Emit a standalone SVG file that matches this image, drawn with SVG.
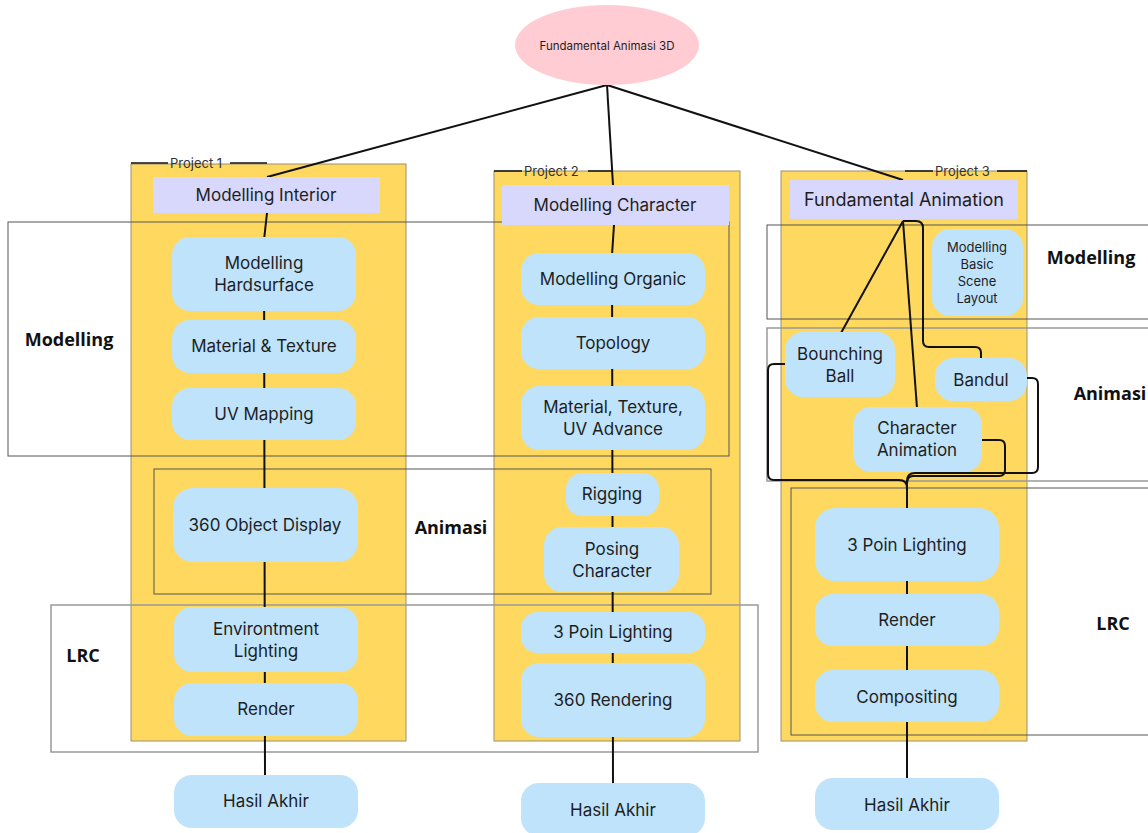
<svg xmlns="http://www.w3.org/2000/svg" width="1148" height="833" viewBox="0 0 1148 833">
<style>
.col{fill:#FFD95F;stroke:#9a9070;stroke-width:1}
.sec{fill:none;stroke:#555;stroke-width:1}
.sec2{fill:none;stroke:#999;stroke-width:1.5}
.lav{fill:#D7D8FB}
.nd{fill:#BEE3FB}
.t{font-family:Inter,"DM Sans","Noto Sans",sans-serif;font-size:17px;fill:#1e1e1e;text-anchor:middle;dominant-baseline:central}
.ts{font-family:Inter,"Noto Sans",sans-serif;font-size:13px;fill:#1e1e1e;text-anchor:middle;dominant-baseline:central}
.pj{font-family:Inter,"Noto Sans",sans-serif;font-size:13px;fill:#333;dominant-baseline:central}
.lb{font-family:"Open Sans","Noto Sans",sans-serif;font-size:18px;font-weight:bold;fill:#111;text-anchor:middle;dominant-baseline:central}
.c{fill:none;stroke:#111;stroke-width:2;stroke-linejoin:round}
</style>
<rect width="1148" height="833" fill="#fff"/>
<g id="columns">
<rect class="col" x="131" y="164" width="275" height="577"/>
<rect class="col" x="494" y="171" width="246" height="570"/>
<rect class="col" x="781" y="171" width="246" height="570"/>
</g>
<g id="sections">
<rect class="sec" x="8" y="222" width="721" height="234"/>
<rect class="sec" x="154" y="469" width="557" height="125"/>
<rect class="sec2" x="51" y="605" width="707" height="147"/>
<rect class="sec" x="767" y="225" width="390" height="94"/>
<rect class="sec2" x="767" y="328" width="390" height="153"/>
<rect class="sec" x="791" y="488" width="366" height="247"/>
</g>
<g id="connectors">
<path class="c" d="M607 85 L267 177"/>
<path class="c" d="M607 85 L613 185"/>
<path class="c" d="M607 85 L903 180"/>
<path class="c" d="M267 213 L264 240 L265 775"/>
<path class="c" d="M614 225 L612 255 L613 783"/>
<path class="c" d="M903 221 L841 333"/>
<path class="c" d="M903 221 L917 408"/>
<path class="c" d="M903 221 L916 221 Q923 221 923 228 L923 341 Q923 347 929 347 L975 347 Q981 347 981 353 L981 358"/>
<path class="c" d="M785 364 L774 364 Q768 364 768 370 L768 474 Q768 480 774 480 L899 480 Q907 480 907 488"/>
<path class="c" d="M1027 378 L1032 378 Q1038 378 1038 384 L1038 467 Q1038 473 1032 473 L915 473 Q907 473 907 481"/>
<path class="c" d="M982 440 L999 440 Q1005 440 1005 446 L1005 470 Q1005 476 999 476 L913 476 Q907 476 907 484"/>
<path class="c" d="M907 481 L907 778"/>
</g>
<g id="root">
<ellipse cx="607" cy="45" rx="92" ry="40" fill="#FFCCD3"/>
<text class="ts" x="607" y="46" font-size="11.5" style="font-size:11.5px">Fundamental Animasi 3D</text>
</g>
<g id="project-labels">
<path d="M131 163 H168 M230 163 H267" stroke="#111" stroke-width="1.5"/>
<text class="pj" x="170" y="163">Project 1</text>
<path d="M494 171 H522 M588 171 H612" stroke="#111" stroke-width="1.5"/>
<text class="pj" x="524" y="171">Project 2</text>
<path d="M905 171 H933 M997 171 H1027" stroke="#111" stroke-width="1.5"/>
<text class="pj" x="935" y="171">Project 3</text>
</g>
<g id="modelling-interior"><rect class="lav" x="153" y="177" width="227" height="36"/><text class="t" x="266" y="195">Modelling Interior</text></g>
<g id="modelling-hardsurface"><rect class="nd" x="172" y="237" width="184" height="74" rx="18"/><text class="t" x="264" y="263">Modelling</text><text class="t" x="264" y="285">Hardsurface</text></g>
<g id="material-texture"><rect class="nd" x="172" y="320" width="184" height="53" rx="18"/><text class="t" x="264" y="346">Material &amp; Texture</text></g>
<g id="uv-mapping"><rect class="nd" x="172" y="388" width="184" height="52" rx="18"/><text class="t" x="264" y="414">UV Mapping</text></g>
<g id="object-display"><rect class="nd" x="173" y="488" width="185" height="74" rx="20"/><text class="t" x="265" y="525">360 Object Display</text></g>
<g id="environment-lighting"><rect class="nd" x="174" y="607" width="184" height="65" rx="18"/><text class="t" x="266" y="629">Environtment</text><text class="t" x="266" y="651">Lighting</text></g>
<g id="render-1"><rect class="nd" x="174" y="683" width="184" height="53" rx="18"/><text class="t" x="266" y="709">Render</text></g>
<g id="hasil-1"><rect class="nd" x="174" y="775" width="184" height="53" rx="18"/><text class="t" x="266" y="801">Hasil Akhir</text></g>

<g id="modelling-character"><rect class="lav" x="502" y="185" width="227" height="40"/><text class="t" x="615" y="205">Modelling Character</text></g>
<g id="modelling-organic"><rect class="nd" x="521" y="253" width="184" height="52" rx="18"/><text class="t" x="613" y="279">Modelling Organic</text></g>
<g id="topology"><rect class="nd" x="521" y="317" width="184" height="52" rx="18"/><text class="t" x="613" y="343">Topology</text></g>
<g id="material-uv-advance"><rect class="nd" x="521" y="386" width="184" height="64" rx="18"/><text class="t" x="613" y="407">Material, Texture,</text><text class="t" x="613" y="429">UV Advance</text></g>
<g id="rigging"><rect class="nd" x="566" y="473" width="93" height="43" rx="16"/><text class="t" x="612" y="494">Rigging</text></g>
<g id="posing-character"><rect class="nd" x="544" y="527" width="135" height="65" rx="18"/><text class="t" x="612" y="549">Posing</text><text class="t" x="612" y="571">Character</text></g>
<g id="lighting-2"><rect class="nd" x="521" y="612" width="184" height="41" rx="16"/><text class="t" x="613" y="632">3 Poin Lighting</text></g>
<g id="rendering-360"><rect class="nd" x="521" y="663" width="184" height="74" rx="18"/><text class="t" x="613" y="700">360 Rendering</text></g>
<g id="hasil-2"><rect class="nd" x="521" y="783" width="184" height="53" rx="18"/><text class="t" x="613" y="810">Hasil Akhir</text></g>

<g id="fundamental-animation"><rect class="lav" x="790" y="180" width="228" height="39"/><text class="t" x="904" y="199" style="font-size:18px">Fundamental Animation</text></g>
<g id="basic-scene-layout"><rect class="nd" x="932" y="229" width="91" height="87" rx="18"/><text class="ts" x="977" y="247">Modelling</text><text class="ts" x="977" y="264">Basic</text><text class="ts" x="977" y="281">Scene</text><text class="ts" x="977" y="298">Layout</text></g>
<g id="bounching-ball"><rect class="nd" x="785" y="332" width="110" height="65" rx="18"/><text class="t" x="840" y="354">Bounching</text><text class="t" x="840" y="376">Ball</text></g>
<g id="bandul"><rect class="nd" x="935" y="358" width="92" height="43" rx="18"/><text class="t" x="981" y="380">Bandul</text></g>
<g id="character-animation"><rect class="nd" x="853" y="407" width="129" height="65" rx="18"/><text class="t" x="917" y="428">Character</text><text class="t" x="917" y="450">Animation</text></g>
<g id="lighting-3"><rect class="nd" x="815" y="508" width="184" height="73" rx="20"/><text class="t" x="907" y="545">3 Poin Lighting</text></g>
<g id="render-3"><rect class="nd" x="815" y="594" width="184" height="52" rx="18"/><text class="t" x="907" y="620">Render</text></g>
<g id="compositing"><rect class="nd" x="815" y="670" width="184" height="52" rx="18"/><text class="t" x="907" y="697">Compositing</text></g>
<g id="hasil-3"><rect class="nd" x="815" y="778" width="184" height="52" rx="18"/><text class="t" x="907" y="805">Hasil Akhir</text></g>

<g id="section-labels">
<text class="lb" x="69" y="339">Modelling</text>
<text class="lb" x="451" y="527">Animasi</text>
<text class="lb" x="83" y="655">LRC</text>
<text class="lb" x="1091" y="257">Modelling</text>
<text class="lb" x="1110" y="393">Animasi</text>
<text class="lb" x="1113" y="623">LRC</text>
</g>
</svg>
